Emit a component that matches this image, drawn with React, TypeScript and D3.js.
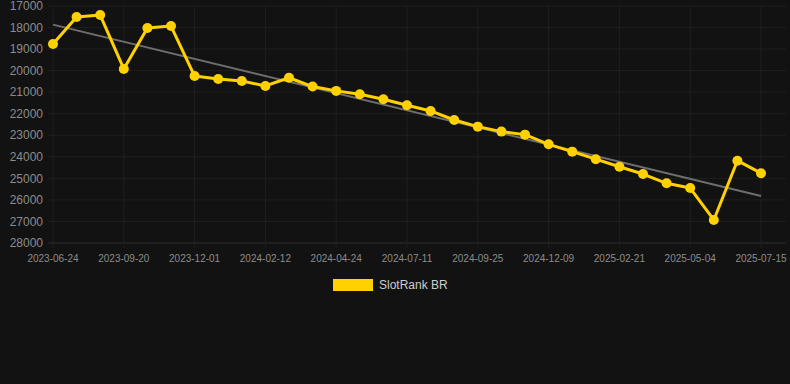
import React, { useEffect, useRef } from 'react';
import { select, scaleLinear, scalePoint, line, range } from 'd3';

const dates = [
  '2023-06-24', '2023-07-24', '2023-08-22', '2023-09-20', '2023-10-15', '2023-11-08',
  '2023-12-01', '2023-12-25', '2024-01-18', '2024-02-12', '2024-03-07', '2024-03-31',
  '2024-04-24', '2024-05-20', '2024-06-15', '2024-07-11', '2024-08-05', '2024-08-30',
  '2024-09-25', '2024-10-20', '2024-11-14', '2024-12-09', '2025-01-03', '2025-01-28',
  '2025-02-21', '2025-03-17', '2025-04-10', '2025-05-04', '2025-05-28', '2025-06-21',
  '2025-07-15',
];

const rankBR = [
  18760, 17510, 17420, 19920, 18020, 17930, 20250, 20390, 20480, 20710, 20330,
  20740, 20940, 21100, 21330, 21610, 21870, 22290, 22600, 22830, 22970, 23420,
  23760, 24110, 24460, 24800, 25230, 25450, 26930, 24180, 24760,
];

const yTicks = [17000, 18000, 19000, 20000, 21000, 22000, 23000, 24000, 25000, 26000, 27000, 28000];
const seriesName = 'SlotRank BR';

function App() {
  const svgRef = useRef(null);
  const width = 790;
  const height = 384;
  const left = 53;
  const right = 761;
  const top = 6;
  const bottom = 243;

  useEffect(() => {
    document.body.style.margin = '0';
    document.body.style.background = '#121212';

    const svg = select(svgRef.current);
    svg.selectAll('*').remove();

    const x = scalePoint().domain(dates).range([left, right]);
    const y = scaleLinear().domain([17000, 28000]).range([top, bottom]);

    svg.append('rect').attr('width', width).attr('height', height).attr('fill', '#121212');

    const grid = svg.append('g');
    grid.selectAll('.hgrid')
      .data(yTicks)
      .enter()
      .append('line')
      .attr('x1', left - 5)
      .attr('x2', 786)
      .attr('y1', d => y(d))
      .attr('y2', d => y(d))
      .attr('stroke', d => (d === 28000 ? '#2e2e2e' : '#1f1f1f'))
      .attr('stroke-width', 1);

    const tickDates = dates.filter((d, i) => i % 3 === 0);
    grid.selectAll('.vgrid')
      .data(tickDates)
      .enter()
      .append('line')
      .attr('x1', d => x(d))
      .attr('x2', d => x(d))
      .attr('y1', top)
      .attr('y2', bottom + 5)
      .attr('stroke', '#1f1f1f')
      .attr('stroke-width', 1);

    svg.append('g')
      .selectAll('text')
      .data(yTicks)
      .enter()
      .append('text')
      .attr('x', 43)
      .attr('y', d => y(d))
      .attr('dy', '0.35em')
      .attr('text-anchor', 'end')
      .attr('fill', '#8c8c8c')
      .style('font', '12px Arial, "Liberation Sans", sans-serif')
      .text(d => String(d));

    svg.append('g')
      .selectAll('text')
      .data(tickDates)
      .enter()
      .append('text')
      .attr('x', d => x(d))
      .attr('y', bottom + 19)
      .attr('text-anchor', 'middle')
      .attr('fill', '#8c8c8c')
      .style('font', '10px Arial, "Liberation Sans", sans-serif')
      .text(d => d);

    // least squares trend over the index
    const n = rankBR.length;
    const idx = range(n);
    const mx = idx.reduce((a, b) => a + b, 0) / n;
    const my = rankBR.reduce((a, b) => a + b, 0) / n;
    let sxy = 0;
    let sxx = 0;
    idx.forEach(i => {
      sxy += (i - mx) * (rankBR[i] - my);
      sxx += (i - mx) * (i - mx);
    });
    const slope = sxy / sxx;
    const icpt = my - slope * mx;
    const trend = [0, n - 1].map(i => ({ i, v: icpt + slope * i }));

    svg.append('path')
      .attr('d', line().x(d => x(dates[d.i])).y(d => y(d.v))(trend))
      .attr('fill', 'none')
      .attr('stroke', '#6e6e6e')
      .attr('stroke-width', 2);

    const pts = rankBR.map((v, i) => ({ d: dates[i], v }));
    svg.append('path')
      .attr('d', line().x(d => x(d.d)).y(d => y(d.v))(pts))
      .attr('fill', 'none')
      .attr('stroke', '#FFD100')
      .attr('stroke-width', 3)
      .attr('stroke-linejoin', 'round');

    svg.append('g')
      .selectAll('circle')
      .data(pts)
      .enter()
      .append('circle')
      .attr('cx', d => x(d.d))
      .attr('cy', d => y(d.v))
      .attr('r', 5)
      .attr('fill', '#FFD100');

    const legend = svg.append('g');
    legend.append('rect')
      .attr('x', 333)
      .attr('y', 279)
      .attr('width', 40)
      .attr('height', 12)
      .attr('fill', '#FFD100');
    legend.append('text')
      .attr('x', 379)
      .attr('y', 285)
      .attr('dy', '0.35em')
      .attr('fill', '#cccccc')
      .style('font', '12px Arial, "Liberation Sans", sans-serif')
      .text(seriesName);
  }, []);

  return <svg ref={svgRef} width={width} height={height} style={{ display: 'block' }}></svg>;
}

export default App;
